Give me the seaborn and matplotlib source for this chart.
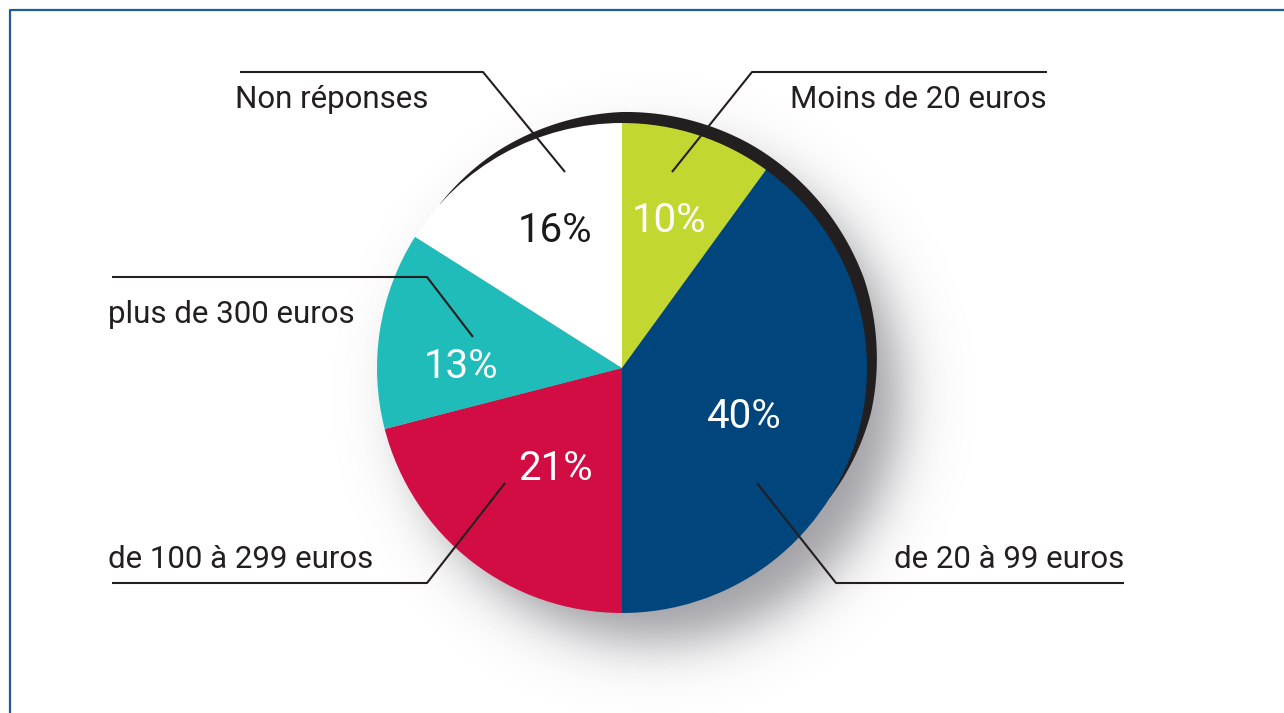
import matplotlib
matplotlib.use("Agg")
import matplotlib.pyplot as plt
import numpy as np
import seaborn as sns

### Data ###

categories = ["Moins de 20 euros", "de 20 à 99 euros", "de 100 à 299 euros",
              "plus de 300 euros", "Non réponses"]
shares = [10, 40, 21, 13, 16]
slice_colors = ["#c2d72f", "#00457c", "#d20d44", "#1fbcb9", "#ffffff"]
pct_colors = ["white", "white", "white", "white", "#1a1a1a"]

### Layout (pixel coords, y measured from the top) ###

W, H = 1284, 713
cx, cy, R = 622, 368, 245

pct_pos = [(669, 221), (744, 416), (555, 468), (461, 366), (555, 230)]
leaders = [
    [(672, 172), (752, 72), (1047, 72)],
    [(757, 483), (836, 583), (1124, 583)],
    [(505, 483), (427, 583), (112, 583)],
    [(473, 337), (427, 277), (112, 277)],
    [(565, 172), (483, 72), (240, 72)],
]
label_pos = [(1047, 108, "right"), (1124, 568, "right"), (108, 568, "left"),
             (108, 323, "left"), (235, 108, "left")]

sns.set_theme(style="white")
plt.rcParams["font.family"] = ["Roboto", "DejaVu Sans"]


def fy(y):
    return H - y


fig = plt.figure(figsize=(W / 100, H / 100), dpi=100)
ax = fig.add_axes([0, 0, 1, 1])

### Soft drop shadow ###

gx, gy = np.meshgrid(np.arange(W) + 0.5, np.arange(H) + 0.5)
dist = np.hypot(gx - (cx + 32), gy - (fy(cy) - 28))
alpha = 0.5 / (1 + np.exp((dist - R) / 16.0))
shadow = np.zeros((H, W, 4))
shadow[..., 0] = 60 / 255
shadow[..., 1] = 60 / 255
shadow[..., 2] = 70 / 255
shadow[..., 3] = alpha
ax.imshow(shadow, extent=(0, W, 0, H), origin="lower", zorder=0,
          interpolation="bilinear")

### Dark rim on the upper right ###

ang = np.linspace(138, -32, 300)
width = np.interp(ang, [-32, -10, 20, 60, 90, 120, 138],
                  [0, 8, 13, 13, 11, 5, 0])
ang_r = np.radians(ang)
outer_x = cx + (R + width) * np.cos(ang_r)
outer_y = fy(cy) + (R + width) * np.sin(ang_r)
inner_x = cx + (R - 1) * np.cos(ang_r[::-1])
inner_y = fy(cy) + (R - 1) * np.sin(ang_r[::-1])
ax.fill(np.concatenate([outer_x, inner_x]), np.concatenate([outer_y, inner_y]),
        color="#231f20", lw=0, zorder=1)

### Pie ###

wedges, _ = ax.pie(
    shares,
    colors=slice_colors,
    startangle=90,
    counterclock=False,
    center=(cx, fy(cy)),
    radius=R,
    wedgeprops=dict(linewidth=0, edgecolor="none"),
)
for w in wedges:
    w.set_zorder(2)

for v, (px, py), c in zip(shares, pct_pos, pct_colors):
    ax.text(px, fy(py), f"{v}%", color=c, fontsize=29, fontweight="normal",
            ha="center", va="center", zorder=4)

### Leader lines and labels ###

for pts, (lx, ly, ha), name in zip(leaders, label_pos, categories):
    xs = [p[0] for p in pts]
    ys = [fy(p[1]) for p in pts]
    ax.plot(xs, ys, color="#231f20", lw=1.5, zorder=3, solid_capstyle="butt")
    ax.text(lx, fy(ly), name, color="#231f20", fontsize=22.5, ha=ha,
            va="baseline", zorder=4)

### Frame border ###

ax.plot([9.5, 9.5, W], [0, fy(10), fy(10)], color="#1f5b9b", lw=1.6, zorder=5)

ax.set_xlim(0, W)
ax.set_ylim(0, H)
ax.set_aspect("equal")
ax.axis("off")

fig.savefig("out.png", dpi=100)
